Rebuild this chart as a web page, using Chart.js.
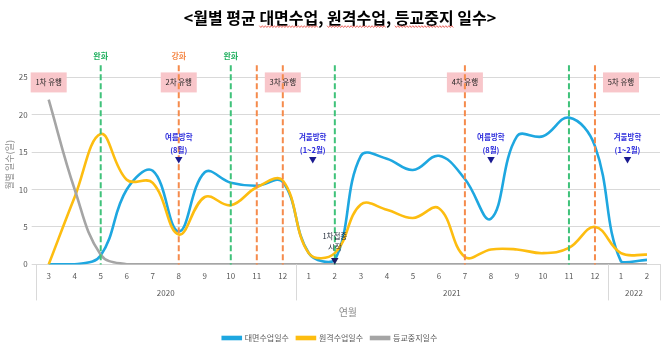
<!DOCTYPE html>
<html><head><meta charset="utf-8">
<script src="https://cdn.jsdelivr.net/npm/chart.js@4.4.0/dist/chart.umd.min.js"></script>
<style>html,body{margin:0;padding:0;background:#fff;}#wrap{width:670px;height:352px;position:relative;}</style>
</head><body><div id="wrap"><canvas id="c"></canvas></div>
<script>
const titleText = '<월별 평균 대면수업, 원격수업, 등교중지 일수>';
const underlined = ['대면수업', '원격수업', '등교중지'];
const months = ['3','4','5','6','7','8','9','10','11','12','1','2','3','4','5','6','7','8','9','10','11','12','1','2'];
const yearLabels = ['2020','2021','2022'];
const yearSpans = [10, 12, 2];
const faceDays   = [0, 0, 1.2, 10.0, 12.5, 4.4, 12.3, 10.9, 10.5, 11.0, 1.5, 0.6, 14.5, 14.1, 12.6, 14.5, 11.4, 6.1, 17.1, 17.1, 19.6, 15.8, 0.4, 0.6];
const remoteDays = [0, 9.0, 17.4, 11.3, 10.9, 4.0, 9.0, 7.9, 10.3, 11.2, 1.5, 1.5, 8.0, 7.3, 6.2, 7.5, 1.0, 2.0, 2.0, 1.5, 2.2, 5.0, 1.5, 1.3];
const closedDays = [22, 10, 1.3, 0, 0, 0, 0, 0, 0, 0, 0, 0, 0, 0, 0, 0, 0, 0, 0, 0, 0, 0, 0, 0];
const seriesNames = ['대면수업일수', '원격수업일수', '등교중지일수'];
const yTicks = [0, 5, 10, 15, 20, 25];
const relaxIdx = [2, 7, 11, 20];
const tightenIdx = [5, 8, 9, 16, 21];
const relaxLabelIdx = [2, 7];
const tightenLabelIdx = [5];
const waveIdx = [0, 5, 9, 16, 22];
const waveLabels = ['1차 유행', '2차 유행', '3차 유행', '4차 유행', '5차 유행'];
const waveLevel = 24.3;
const vacationPos = [5, 10.15, 17, 22.25];
const vacationLabels = [['여름방학','(8월)'], ['겨울방학','(1~2월)'], ['여름방학','(8월)'], ['겨울방학','(1~2월)']];
const vacationLevels = [17.0, 15.3, 14.0];
const vaccinePos = 11;
const vaccineLabel = ['1차접종', '시작'];
const vaccineLevels = [3.8, 2.3, 0.5];

const FONT = "'Noto Sans CJK KR', 'Noto Sans', sans-serif";
const BLUE = '#1ea7e0', YELLOW = '#fdbd10', GRAY = '#a5a5a5';
const GREEN = '#3fc27a', ORANGE = '#f58b4c';

const annot = {
  id: 'annot',
  afterLayout(chart) {
    if (chart.titleBlock) { chart.titleBlock.left += 20; }
  },
  afterDatasetsDraw(chart) {
    const ctx = chart.ctx, x = chart.scales.x, y = chart.scales.y, ca = chart.chartArea;
    const step = x.getPixelForValue(1) - x.getPixelForValue(0);
    const xAt = v => x.getPixelForValue(Math.floor(v)) + (v - Math.floor(v)) * step;
    ctx.save();
    waveIdx.forEach((i) => {
      const cx = xAt(i), cy = y.getPixelForValue(waveLevel);
      ctx.fillStyle = '#f8c6ca';
      ctx.fillRect(cx - 18, cy - 10, 36, 20);
    });
    ctx.lineWidth = 2;
    ctx.setLineDash([6, 3]);
    relaxIdx.forEach(i => {
      ctx.strokeStyle = GREEN; ctx.beginPath();
      ctx.moveTo(xAt(i), ca.top); ctx.lineTo(xAt(i), ca.bottom); ctx.stroke();
    });
    tightenIdx.forEach(i => {
      ctx.strokeStyle = ORANGE; ctx.beginPath();
      ctx.moveTo(xAt(i), ca.top); ctx.lineTo(xAt(i), ca.bottom); ctx.stroke();
    });
    ctx.setLineDash([]);
    ctx.textAlign = 'center'; ctx.textBaseline = 'middle';
    ctx.font = '7.5px ' + FONT; ctx.fillStyle = '#222';
    waveIdx.forEach((i, k) => ctx.fillText(waveLabels[k], xAt(i), y.getPixelForValue(waveLevel)));
    ctx.font = 'bold 8px ' + FONT;
    ctx.fillStyle = '#22b060';
    relaxLabelIdx.forEach(i => ctx.fillText('완화', xAt(i), ca.top - 9));
    ctx.fillStyle = ORANGE;
    tightenLabelIdx.forEach(i => ctx.fillText('강화', xAt(i), ca.top - 9));
    vacationPos.forEach((p, k) => {
      const cx = xAt(p);
      ctx.font = 'bold 7.5px ' + FONT; ctx.fillStyle = '#2b2bdc';
      ctx.fillText(vacationLabels[k][0], cx, y.getPixelForValue(vacationLevels[0]));
      ctx.fillText(vacationLabels[k][1], cx, y.getPixelForValue(vacationLevels[1]));
      ctx.font = '8px ' + FONT; ctx.fillStyle = '#1a1a90';
      ctx.fillText('▼', cx, y.getPixelForValue(vacationLevels[2]));
    });
    const vx = xAt(vaccinePos);
    ctx.font = '7.5px ' + FONT; ctx.fillStyle = '#1c2533';
    ctx.fillText(vaccineLabel[0], vx, y.getPixelForValue(vaccineLevels[0]));
    ctx.fillText(vaccineLabel[1], vx, y.getPixelForValue(vaccineLevels[1]));
    ctx.font = '8px ' + FONT; ctx.fillStyle = '#1a1a60';
    ctx.fillText('▼', vx, y.getPixelForValue(vaccineLevels[2]));
    ctx.restore();
  },
  afterDraw(chart) {
    const ctx = chart.ctx, x = chart.scales.x, ca = chart.chartArea;
    const step = x.getPixelForValue(1) - x.getPixelForValue(0);
    ctx.save();
    ctx.strokeStyle = '#d9d9d9'; ctx.lineWidth = 1;
    let start = 0;
    const bounds = [x.getPixelForValue(0) - step / 2];
    yearSpans.forEach(n => { start += n; bounds.push(x.getPixelForValue(start - 1) + step / 2); });
    bounds.forEach(b => {
      const bx = Math.round(b) + 0.5;
      ctx.beginPath(); ctx.moveTo(bx, ca.bottom); ctx.lineTo(bx, ca.bottom + 36); ctx.stroke();
    });
    ctx.fillStyle = '#595959'; ctx.font = '8px ' + FONT;
    ctx.textAlign = 'center'; ctx.textBaseline = 'middle';
    yearLabels.forEach((lab, k) => ctx.fillText(lab, (bounds[k] + bounds[k + 1]) / 2, ca.bottom + 29));
    const tb = chart.titleBlock;
    const tf = chart.options.plugins.title.font;
    ctx.font = tf.weight + ' ' + tf.size + 'px ' + FONT;
    const total = ctx.measureText(titleText).width;
    const tcx = (tb.left + tb.right) / 2;
    const tcy = tb.top + chart.options.plugins.title.padding.top + tf.size * 1.2 / 2;
    const left = tcx - total / 2;
    ctx.strokeStyle = '#e4453e'; ctx.lineWidth = 0.8;
    underlined.forEach(w => {
      const idx = titleText.indexOf(w);
      const x0 = left + ctx.measureText(titleText.slice(0, idx)).width;
      const x1 = x0 + ctx.measureText(w).width;
      const yy = tcy + 9;
      ctx.beginPath();
      for (let px = x0, k = 0; px <= x1; px += 1.5, k++) {
        const py = yy + (k % 2 ? 1 : -1) * 0.9;
        if (k === 0) ctx.moveTo(px, py); else ctx.lineTo(px, py);
      }
      ctx.stroke();
    });
    ctx.restore();
  }
};

new Chart(document.getElementById('c'), {
  type: 'line',
  data: {
    labels: months,
    datasets: [
      { label: seriesNames[0], data: faceDays, borderColor: BLUE, backgroundColor: BLUE, order: 3 },
      { label: seriesNames[1], data: remoteDays, borderColor: YELLOW, backgroundColor: YELLOW, order: 2 },
      { label: seriesNames[2], data: closedDays, borderColor: GRAY, backgroundColor: GRAY, order: 1 }
    ]
  },
  options: {
    responsive: true, maintainAspectRatio: false, animation: false,
    devicePixelRatio: 1,
    elements: { line: { tension: 0.4, borderWidth: 2.6 }, point: { radius: 0 } },
    layout: { padding: { left: 0, right: 10, top: 0, bottom: 0 } },
    plugins: {
      title: { display: true, text: titleText, color: '#000', font: { family: FONT, size: 16, weight: 'bold' }, padding: { top: 8, bottom: 38 } },
      legend: {
        position: 'bottom',
        labels: {
          color: '#595959', font: { family: FONT, size: 8 }, boxWidth: 18, boxHeight: 2, padding: 8,
          sort: (a, b) => a.datasetIndex - b.datasetIndex
        }
      },
      tooltip: { enabled: false }
    },
    scales: {
      x: {
        offset: true,
        grid: { display: false, drawTicks: false, tickLength: 0 },
        border: { display: true, color: '#d9d9d9' },
        ticks: { color: '#595959', font: { family: FONT, size: 8 }, padding: 7, maxRotation: 0, autoSkip: false },
        title: { display: true, text: '연월', color: '#8c8c8c', font: { family: FONT, size: 10 }, padding: { top: 18, bottom: 8 } }
      },
      y: {
        min: 0, max: 26.6,
        afterBuildTicks: s => { s.ticks = yTicks.map(v => ({ value: v })); },
        grid: { color: '#d9d9d9', tickLength: 4 },
        border: { display: false },
        ticks: { color: '#595959', font: { family: FONT, size: 8 }, padding: 4 },
        title: { display: true, text: '월별 일수(일)', color: '#8c8c8c', font: { family: FONT, size: 9 }, padding: { top: 4, bottom: 0 } }
      }
    }
  },
  plugins: [annot]
});
</script></body></html>
